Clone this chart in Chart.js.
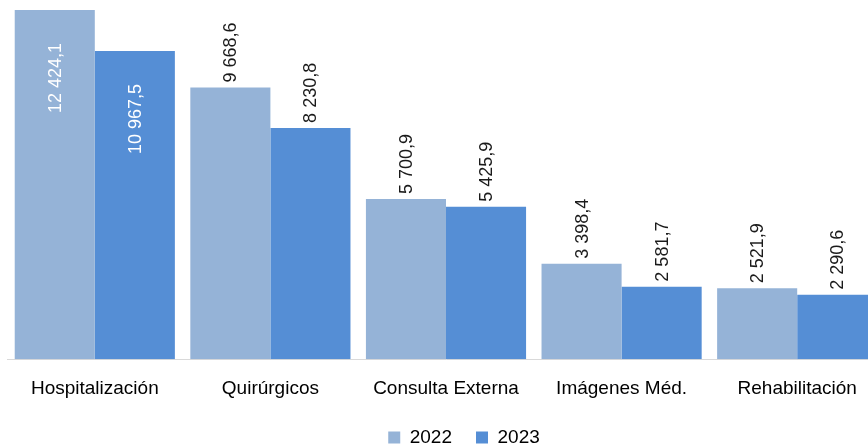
<!DOCTYPE html>
<html>
<head>
<meta charset="utf-8">
<script src="https://cdn.jsdelivr.net/npm/chart.js@4"></script>
<style>
  html, body { margin: 0; padding: 0; background: #fff; overflow: hidden; }
  #wrap { width: 885px; height: 457px; position: relative; }
</style>
</head>
<body>
<div id="wrap"><canvas id="chart"></canvas></div>
<script>
const categories = ["Hospitalización", "Quirúrgicos", "Consulta Externa", "Imágenes Méd.", "Rehabilitación"];
const years = ["2022", "2023"];
const values2022 = [12424.1, 9668.6, 5700.9, 3398.4, 2521.9];
const values2023 = [10967.5, 8230.8, 5425.9, 2581.7, 2290.6];

const FONT = "'Liberation Sans', Arial, sans-serif";

// "12 424,1" style numbers
function fmt(v) {
  const parts = v.toFixed(1).split(".");
  const intPart = parts[0].replace(/\B(?=(\d{3})+(?!\d))/g, " ");
  return intPart + "," + parts[1];
}

// rotated value labels, inside the bar when they don't fit above it
const barLabels = {
  id: "barLabels",
  afterDatasetsDraw(chart) {
    const ctx = chart.ctx;
    const top = chart.chartArea.top;
    ctx.save();
    ctx.font = "18px " + FONT;
    ctx.textBaseline = "middle";
    chart.data.datasets.forEach((ds, di) => {
      const meta = chart.getDatasetMeta(di);
      meta.data.forEach((bar, i) => {
        const txt = fmt(ds.data[i]);
        const w = ctx.measureText(txt).width;
        const outside = bar.y - 6 - w >= top;
        ctx.save();
        if (outside) {
          ctx.translate(bar.x, bar.y - 5);
          ctx.rotate(-Math.PI / 2);
          ctx.textAlign = "left";
          ctx.fillStyle = "#1a1a1a";
        } else {
          ctx.translate(bar.x, bar.y + 33);
          ctx.rotate(-Math.PI / 2);
          ctx.textAlign = "right";
          ctx.fillStyle = "#ffffff";
        }
        ctx.fillText(txt, 0, 1);
        ctx.restore();
      });
    });
    ctx.restore();
  }
};

// the original chart is wider than the crop, so its legend sits right of our centre
const legendShift = {
  id: "legendShift",
  afterLayout(chart) {
    if (chart.legend) {
      chart.legend.left += 18;
      chart.legend.right += 18;
    }
  }
};

new Chart(document.getElementById("chart"), {
  type: "bar",
  data: {
    labels: categories,
    datasets: [
      { label: years[0], data: values2022, backgroundColor: "#95b3d7" },
      { label: years[1], data: values2023, backgroundColor: "#558ed5" }
    ]
  },
  options: {
    responsive: true,
    maintainAspectRatio: false,
    animation: false,
    layout: { padding: { left: 7, right: 0, top: 0, bottom: 0 } },
    datasets: { bar: { categoryPercentage: 0.912, barPercentage: 1.0 } },
    scales: {
      x: {
        grid: { display: false, drawTicks: false },
        border: { display: true, color: "#d9d9d9", width: 1 },
        ticks: { color: "#000", font: { family: FONT, size: 19 }, padding: 18, maxRotation: 0 },
        afterFit(scale) { scale.height -= 14; }
      },
      y: {
        display: false,
        min: 0,
        max: 12781
      }
    },
    plugins: {
      legend: {
        position: "bottom",
        labels: {
          color: "#000",
          font: { family: FONT, size: 19 },
          boxWidth: 12,
          boxHeight: 12,
          padding: 24
        }
      },
      tooltip: { enabled: false }
    }
  },
  plugins: [barLabels, legendShift]
});
</script>
</body>
</html>
